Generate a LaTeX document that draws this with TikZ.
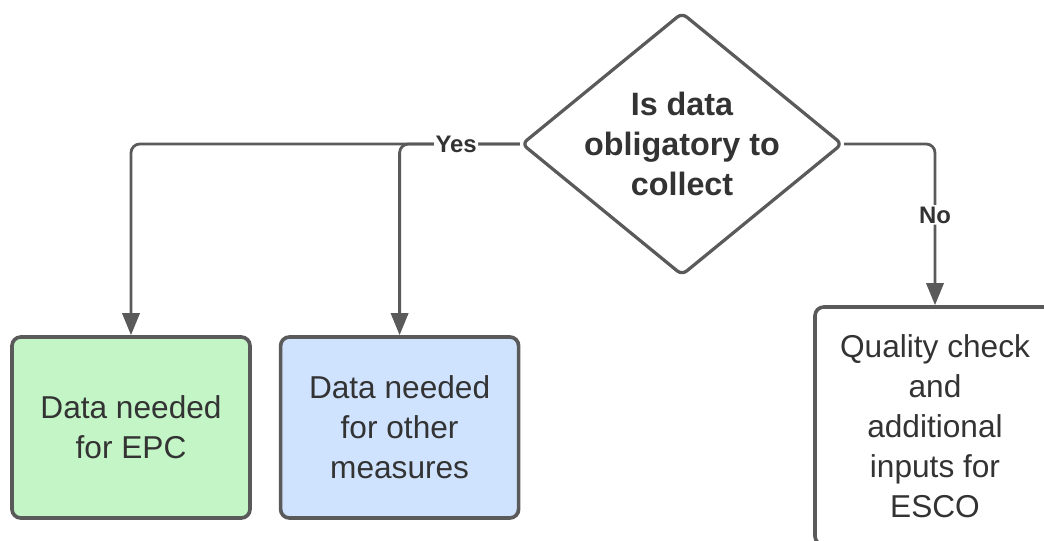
\documentclass[tikz,border=0pt]{standalone}
\usepackage{fontspec}
\setmainfont{Liberation Sans}
\usepackage{tikz}
\usetikzlibrary{shapes.geometric,arrows.meta}

\definecolor{linegray}{HTML}{5A5A5A}
\definecolor{txtgray}{HTML}{333333}
\definecolor{epcgreen}{HTML}{C3F5C6}
\definecolor{otherblue}{HTML}{CFE3FF}

\begin{document}
\begin{tikzpicture}[
    box/.style={draw=linegray, line width=2.6pt, rounded corners=0.22cm, minimum width=5.95cm, minimum height=4.525cm, align=center, text=txtgray, font=\fontsize{22.5}{28.5}\selectfont, inner sep=0pt},
    decide/.style={diamond, aspect=1.22, draw=linegray, line width=2.3pt, rounded corners=0.15cm, minimum width=8.025cm, minimum height=6.575cm, align=center, text=txtgray, font=\bfseries\fontsize{23}{28.5}\selectfont, inner sep=-0.2cm},
    conn/.style={draw=linegray, line width=2pt, rounded corners=0.22cm, -{Triangle[length=0.55cm,width=0.43cm]}},
    lbl/.style={fill=white, text=txtgray, font=\bfseries\fontsize{17}{20}\selectfont, inner sep=1pt}
]
            \useasboundingbox (0,0) rectangle (26.1,13.5);

            %question
            \node[decide] (q) at (17.05,9.9) {Is data\\obligatory to\\collect};

            %answers
            \node[box, fill=epcgreen] (epc) at (3.275,2.8125) {Data needed\\for EPC};
            \node[box, fill=otherblue] (other) at (9.99,2.8125) {Data needed\\for other\\measures};
            \node[box, fill=white, minimum width=6cm, minimum height=5.95cm] (esco) at (23.375,2.85) {Quality check\\and\\additional\\inputs for\\ESCO};

            \draw[conn] (q.west) -| (other.north);
            \draw[conn] (q.west) -| node[lbl, pos=0.082] {Yes} (epc.north);
            \draw[conn] (q.east) -| node[lbl, pos=0.72] {No} (esco.north);
        \end{tikzpicture}
\end{document}
